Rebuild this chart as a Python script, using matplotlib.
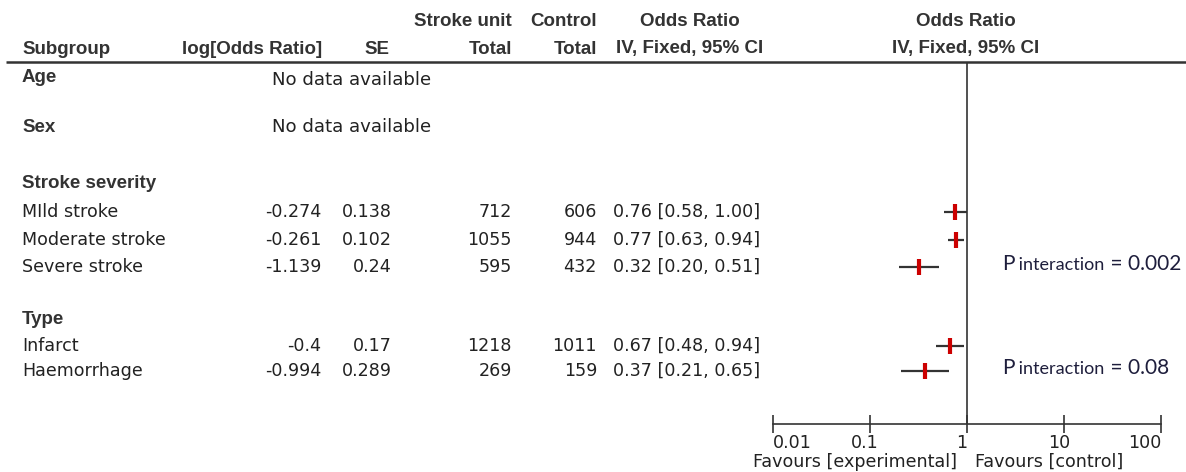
import matplotlib
matplotlib.use("Agg")
import matplotlib.pyplot as plt
from matplotlib.transforms import ScaledTranslation

# ---- data -------------------------------------------------------------
group_names = ["Age", "Sex", "Stroke severity", "Type"]
no_data_groups = ["Age", "Sex"]

subgroups = ["MIld stroke", "Moderate stroke", "Severe stroke", "Infarct", "Haemorrhage"]
log_or = ["-0.274", "-0.261", "-1.139", "-0.4", "-0.994"]
se = ["0.138", "0.102", "0.24", "0.17", "0.289"]
unit_total = [712, 1055, 595, 1218, 269]
control_total = [606, 944, 432, 1011, 159]
odds_ratio = [0.76, 0.77, 0.32, 0.67, 0.37]
ci_low = [0.58, 0.63, 0.20, 0.48, 0.21]
ci_high = [1.00, 0.94, 0.51, 0.94, 0.65]

p_interaction = ["0.002", "0.08"]
axis_ticks = [0.01, 0.1, 1, 10, 100]
axis_tick_labels = ["0.01", "0.1", "1", "10", "100"]

# ---- layout (pixel rows / columns) -------------------------------------
W, H = 1186, 472
group_y = {"Age": 77, "Sex": 127, "Stroke severity": 183, "Type": 320}
row_y = [212, 240, 267, 346, 371]
p_y = [270, 374]

TXT = "#222222"
HDR = "#333333"
BODY = dict(family="DejaVu Sans", fontsize=12.6, color=TXT)
HEAD = dict(family="Liberation Sans", fontsize=13.5, weight="bold", color=HDR)

fig = plt.figure(figsize=(W / 100, H / 100), dpi=100)
ax = fig.add_axes([0, 0, 1, 1])
ax.set_xlim(0, W)
ax.set_ylim(H, 0)
ax.axis("off")

# column headers
ax.text(22, 49, "Subgroup", ha="left", va="center", **HEAD)
ax.text(322, 49, "log[Odds Ratio]", ha="right", va="center", **HEAD)
ax.text(389, 49, "SE", ha="right", va="center", **HEAD)
ax.text(512, 22, "Stroke unit", ha="right", va="center", **HEAD)
ax.text(512, 49, "Total", ha="right", va="center", **HEAD)
ax.text(597, 22, "Control", ha="right", va="center", **HEAD)
ax.text(597, 49, "Total", ha="right", va="center", **HEAD)
ax.text(690, 22, "Odds Ratio", ha="center", va="center", **HEAD)
ax.text(690, 49, "IV, Fixed, 95% CI", ha="center", va="center", **HEAD)
ax.text(966, 22, "Odds Ratio", ha="center", va="center", **HEAD)
ax.text(966, 49, "IV, Fixed, 95% CI", ha="center", va="center", **HEAD)
ax.plot([6, W], [62, 62], color=HDR, lw=1.8, solid_capstyle="butt")

# group headings
for g in group_names:
    ax.text(22, group_y[g], g, ha="left", va="center", **HEAD)
for g in no_data_groups:
    ax.text(272, group_y[g] + 3 if g == "Age" else group_y[g], "No data available",
            ha="left", va="center", family="DejaVu Sans", fontsize=13.1, color=TXT)

# table rows
for i, name in enumerate(subgroups):
    y = row_y[i]
    ax.text(22, y, name, ha="left", va="center", **BODY)
    ax.text(321, y, log_or[i], ha="right", va="center", **BODY)
    ax.text(392, y, se[i], ha="right", va="center", **BODY)
    ax.text(512, y, str(unit_total[i]), ha="right", va="center", **BODY)
    ax.text(597, y, str(control_total[i]), ha="right", va="center", **BODY)
    ax.text(613, y, f"{odds_ratio[i]:.2f} [{ci_low[i]:.2f}, {ci_high[i]:.2f}]",
            ha="left", va="center", **BODY)

# forest plot panel
fx0, fx1, fy0, fy1 = 773, 1161, 62, 424
fa = fig.add_axes([fx0 / W, 1 - fy1 / H, (fx1 - fx0) / W, (fy1 - fy0) / H])
fa.set_xscale("log")
fa.set_xlim(axis_ticks[0], axis_ticks[-1])
fa.set_ylim(fy1, fy0)
fa.patch.set_alpha(0)
for s in ("top", "left", "right"):
    fa.spines[s].set_visible(False)
fa.spines["bottom"].set_color(HDR)
fa.spines["bottom"].set_linewidth(1.2)
fa.set_yticks([])
fa.set_xticks(axis_ticks)
fa.set_xticklabels(axis_tick_labels)
fa.xaxis.set_minor_locator(matplotlib.ticker.NullLocator())
fa.tick_params(axis="x", direction="inout", length=13, width=1.2, color=HDR,
               pad=1, labelsize=12.6, labelcolor=TXT)
labels = fa.get_xticklabels()
nudge = ScaledTranslation(-5 / 100, 0, fig.dpi_scale_trans)
for k, lab in enumerate(labels):
    lab.set_family("DejaVu Sans")
    if k == 0:
        lab.set_horizontalalignment("left")
    elif k == len(labels) - 1:
        lab.set_horizontalalignment("right")
    else:
        lab.set_transform(lab.get_transform() + nudge)

fa.axvline(1, color=HDR, lw=1.2)
fa.hlines(row_y, ci_low, ci_high, color="#333333", lw=1.6)
fa.plot(odds_ratio, row_y, linestyle="none", marker="|", markersize=12,
        markeredgewidth=3, color="#cc0000")

ax.text(957, 462, "Favours [experimental]", ha="right", va="center", **BODY)
ax.text(975, 462, "Favours [control]", ha="left", va="center", **BODY)

# interaction p-values
PCOL = "#1e1e3c"
for y, pv in zip(p_y, p_interaction):
    t1 = ax.text(1002, y, "P", ha="left", va="baseline",
                 family="Lato", fontsize=15, color=PCOL)
    t2 = ax.annotate(" interaction", xy=(1, y), xycoords=(t1, "data"),
                     ha="left", va="baseline", family="Lato", fontsize=13,
                     color=PCOL)
    ax.annotate(" = " + pv, xy=(1, y), xycoords=(t2, "data"),
                ha="left", va="baseline", family="Lato", fontsize=15,
                color=PCOL)

fig.savefig("out.png", dpi=100)
